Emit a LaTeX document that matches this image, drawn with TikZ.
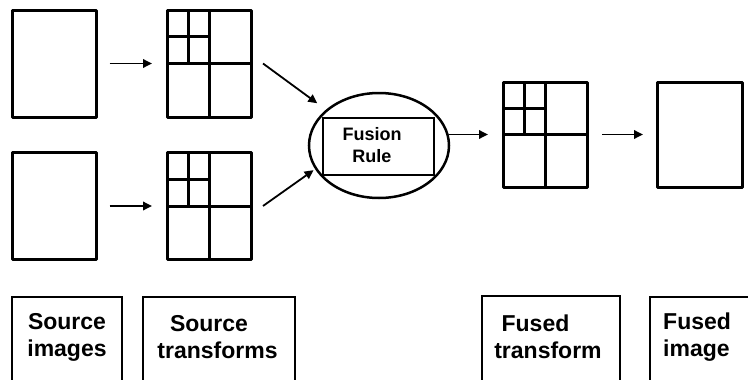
\documentclass[tikz,border=0pt]{standalone}
\usepackage{fontspec}
\setmainfont{Liberation Sans}
\usetikzlibrary{calc,arrows.meta,shapes.geometric}
\tikzset{
 img/.style={draw, line width=3pt, line join=round, inner sep=0pt, outer sep=0pt, minimum width=84pt, minimum height=107pt},
 arr/.style={line width=1.8pt, -{Triangle[length=9pt,width=8.5pt]}},
 lab/.style={draw, line width=2pt, inner sep=0pt, outer sep=0pt, minimum height=100pt, anchor=north},
 labtext/.style={font=\fontsize{23}{27}\selectfont\bfseries, align=center, inner sep=0pt},
 gridline/.style={line width=3pt},
}
\newcommand\qgrid[1]{%
 \draw[gridline] (#1.north) -- (#1.south) (#1.west) -- (#1.east)
 ($(#1.north west)!0.5!(#1.north)$) -- ($(#1.west)!0.5!(#1.center)$)
 ($(#1.west)!0.5!(#1.north west)$) -- ($(#1.center)!0.5!(#1.north)$);}
\begin{document}
\begin{tikzpicture}[x=1pt,y=-1pt]
\useasboundingbox (0,0) rectangle (748,380);
\clip (0,0) rectangle (748,380);
% source images and transforms
\node[img] (s1) at (54.5,63.5) {};
\node[img] (t1) at (209,63.5) {};
\node[img] (s2) at (54.5,206) {};
\node[img] (t2) at (209,206) {};
\qgrid{t1}
\qgrid{t2}
% fusion rule
\node[draw, ellipse, line width=2.5pt, minimum width=140pt, minimum height=105pt, inner sep=0pt, outer sep=0pt] (fu) at (379,145.5) {};
\node[draw, line width=2.5pt, minimum width=111pt, minimum height=57pt, inner sep=0pt, outer sep=0pt] (fr) at (378.5,146.5) {};
\node[font=\fontsize{18}{22}\selectfont\bfseries, align=center, inner sep=0pt] (frt) at ($(fr.center)+(-6.5,-1)$) {Fusion\\Rule};
% fused
\node[img, minimum height=105pt] (ft) at (545,134.5) {};
\node[img, minimum width=85pt, minimum height=105pt] (fi) at (699.5,134.5) {};
\qgrid{ft}
% arrows
\draw[arr, shorten <=13pt, shorten >=15pt] (s1) -- (t1);
\draw[arr, shorten <=13pt, shorten >=15pt] (s2) -- (t2);
\draw[arr, shorten >=12pt] ([xshift=12pt]t1.east) -- (fu.146);
\draw[arr, shorten >=3pt] ([xshift=12pt]t2.east) -- (fu.200);
\draw[arr, shorten >=15pt] (fu.east |- ft.west) -- (ft.west);
\draw[arr, shorten <=15pt, shorten >=14pt] (ft) -- (fi);
% label boxes
\node[lab, minimum width=110pt] (b1) at (67,297) {};
\node[lab, minimum width=152pt] (b2) at (219,297) {};
\node[lab, minimum width=138pt] (b3) at (551,296) {};
\node[lab, minimum width=110pt] (b4) at (705,297) {};
\node[labtext] (l1) at ($(b1.north)+(0,40)$) {Source\\images};
\node[labtext] (l2) at ($(b2.north)+(-1.5,40)$) {\hspace*{-17pt}Source\\transforms};
\node[labtext] (l3) at ($(b3.north)+(-3,41)$) {\hspace*{-25pt}Fused\\transform};
\node[labtext, align=left, anchor=west] (l4) at ($(b4.north west)+(13,40)$) {Fused\\image};
\end{tikzpicture}
\end{document}
